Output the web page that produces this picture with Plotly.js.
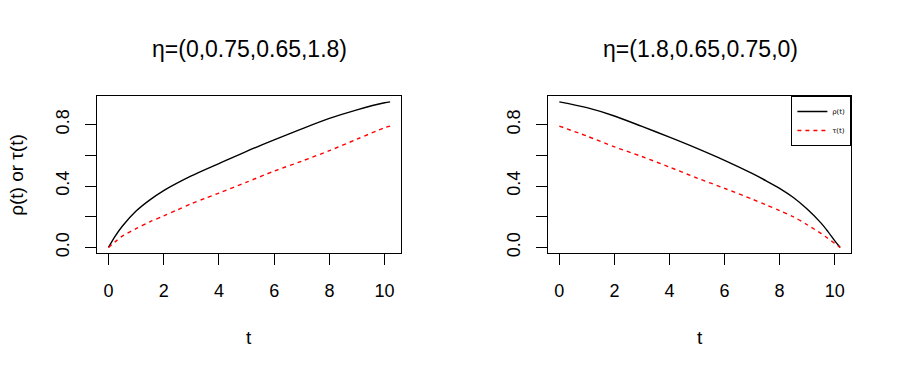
<!DOCTYPE html>
<html>
<head>
<meta charset="utf-8">
<script src="https://cdn.plot.ly/plotly-3.0.1.min.js"></script>
<style>
  html, body { margin: 0; padding: 0; background: #fff; }
  #chart { width: 900px; height: 375px; }
</style>
</head>
<body>
<div id="chart"></div>
<script>
// left panel: eta = (0, 0.75, 0.65, 1.8)
const tLeft   = [0, 0.25, 0.5, 1, 1.5, 2, 2.5, 3, 3.5, 4, 5, 6, 7, 8, 9, 10, 10.2];
const rhoLeft = [0, 0.075, 0.138, 0.237, 0.31, 0.37, 0.42, 0.466, 0.507, 0.546, 0.626, 0.70, 0.772, 0.84, 0.896, 0.942, 0.948];
const tauLeft = [0, 0.038, 0.074, 0.122, 0.167, 0.206, 0.245, 0.285, 0.32, 0.354, 0.425, 0.497, 0.562, 0.63, 0.705, 0.78, 0.79];

// right panel: eta = (1.8, 0.65, 0.75, 0)
const tRight   = [0, 1, 2, 3, 4, 5, 6, 7, 7.5, 8, 8.5, 9, 9.5, 9.75, 10, 10.2];
const rhoRight = [0.948, 0.91, 0.856, 0.788, 0.718, 0.645, 0.567, 0.482, 0.435, 0.385, 0.325, 0.25, 0.16, 0.105, 0.045, 0];
const tauRight = [0.79, 0.725, 0.655, 0.592, 0.523, 0.452, 0.385, 0.315, 0.278, 0.24, 0.2, 0.148, 0.092, 0.06, 0.027, 0];

const xTicks = [0, 2, 4, 6, 8, 10];
const yTicks = [0, 0.2, 0.4, 0.6, 0.8];
const yTickText = ['0.0', '', '0.4', '', '0.8'];
const titles = ['η=(0,0.75,0.65,1.8)', 'η=(1.8,0.65,0.75,0)'];

const FONT = 'Liberation Sans, Arial, Helvetica, sans-serif';

const rhoLine = { color: '#000', width: 1.4, shape: 'spline', smoothing: 0.8 };
const tauLine = { color: '#ff0000', width: 1.4, dash: '4px,4px', shape: 'spline', smoothing: 0.8 };

const traces = [
  { x: tLeft, y: rhoLeft, mode: 'lines', line: rhoLine, xaxis: 'x', yaxis: 'y', showlegend: false },
  { x: tLeft, y: tauLeft, mode: 'lines', line: tauLine, xaxis: 'x', yaxis: 'y', showlegend: false },
  { x: tRight, y: rhoRight, mode: 'lines', line: rhoLine, xaxis: 'x2', yaxis: 'y2', name: 'ρ(t)' },
  { x: tRight, y: tauRight, mode: 'lines', line: tauLine, xaxis: 'x2', yaxis: 'y2', name: 'τ(t)' }
];

function xAxis(domain, anchor) {
  return {
    domain, anchor, range: [-0.408, 10.608],
    tickvals: xTicks, ticks: 'outside', ticklen: 11, tickcolor: '#000', tickwidth: 1,
    showline: true, mirror: true, linecolor: '#000', linewidth: 1,
    showgrid: false, zeroline: false, ticklabelstandoff: 10,
    tickfont: { family: FONT, size: 18, color: '#000' }
  };
}
function yAxis(domain, anchor) {
  return {
    domain, anchor, range: [-0.038, 0.986],
    tickvals: yTicks, ticktext: yTickText, tickangle: -90,
    ticks: 'outside', ticklen: 11, tickcolor: '#000', tickwidth: 1,
    showline: true, mirror: true, linecolor: '#000', linewidth: 1,
    showgrid: false, zeroline: false, ticklabelstandoff: 9,
    tickfont: { family: FONT, size: 18, color: '#000' }
  };
}

const yDom = [0.3245, 0.744];

function note(text, x, y, size, angle) {
  return { text, x, y, xref: 'paper', yref: 'paper', xanchor: 'center', yanchor: 'middle',
    showarrow: false, textangle: angle || 0, font: { family: FONT, size } };
}

const layout = {
  width: 900, height: 375,
  margin: { l: 0, r: 0, t: 0, b: 0 },
  paper_bgcolor: '#fff', plot_bgcolor: '#fff',
  font: { family: FONT, color: '#000' },
  xaxis: xAxis([0.108, 0.446], 'y'),
  yaxis: yAxis(yDom, 'x'),
  xaxis2: xAxis([0.609, 0.946], 'y2'),
  yaxis2: yAxis(yDom, 'x2'),
  showlegend: true,
  legend: {
    x: 0.946, xanchor: 'right', y: 0.744, yanchor: 'top',
    bgcolor: '#fff', bordercolor: '#000', borderwidth: 1,
    font: { family: 'DejaVu Serif, serif', size: 7, color: '#000' },
    itemwidth: 30, tracegroupgap: 0
  },
  annotations: [
    note(titles[0], 0.277, 0.869, 23),
    note(titles[1], 0.778, 0.869, 23),
    note('t', 0.277, 0.0987, 19),
    note('t', 0.778, 0.0987, 19),
    note('ρ(t) or τ(t)', 0.019, 0.534, 19, -90)
  ]
};

Plotly.newPlot('chart', traces, layout, { displayModeBar: false, staticPlot: true });
</script>
</body>
</html>
